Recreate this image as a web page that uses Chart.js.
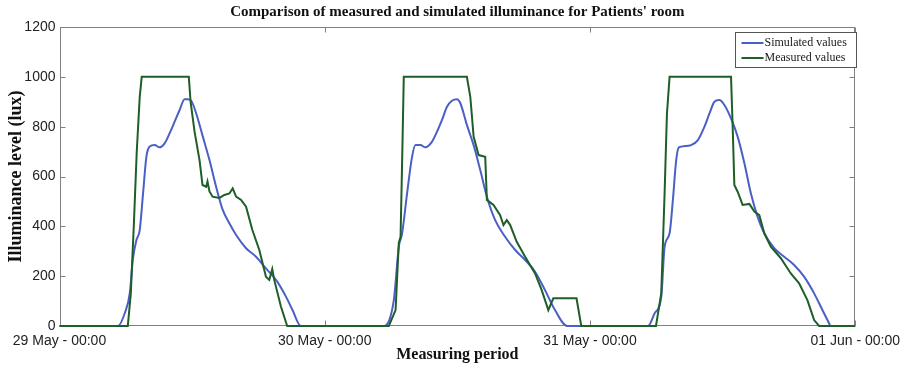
<!DOCTYPE html>
<html>
<head>
<meta charset="utf-8">
<script src="https://cdn.jsdelivr.net/npm/chart.js@4/dist/chart.umd.min.js"></script>
<style>
  html, body { margin: 0; padding: 0; background: #ffffff; }
  #wrap { width: 907px; height: 366px; }
</style>
</head>
<body>
<div id="wrap"><canvas id="chart" width="907" height="366"></canvas></div>
<script>
// Hours since 29 May 00:00 and illuminance (lux)
const simHours = [0, 5.30, 5.91, 6.36, 6.63, 6.96, 7.26, 7.56, 7.86, 8.16, 8.61, 9.06, 9.51, 9.96, 10.42, 10.87, 11.32, 11.61, 11.92, 12.37, 12.97, 13.57, 14.17, 14.77, 15.37, 15.98, 16.88, 17.78, 18.68, 19.59, 20.49, 21.08, 21.84,
  29.35, 30.25, 30.70, 31.00, 31.45, 31.90, 32.21, 32.66, 33.11, 33.71, 34.16, 34.61, 35.06, 35.51, 35.96, 36.27, 36.86, 37.47, 38.07, 38.67, 39.42, 40.32, 41.23, 42.13, 43.03, 43.93, 44.83, 45.94,
  53.25, 53.85, 54.45, 54.75, 55.20, 55.50, 55.80, 56.04, 56.56, 57.15, 57.76, 58.36, 58.81, 59.26, 59.71, 60.16, 60.76, 61.36, 61.97, 62.56, 63.16, 63.77, 64.67, 65.57, 66.47, 67.37, 68.28, 69.03, 69.63, 69.75, 72];
const simLux = [0, 0, 52, 132, 265, 345, 385, 532, 679, 720, 726, 717, 733, 773, 820, 867, 910, 910, 904, 853, 760, 666, 559, 466, 412, 365, 312, 278, 231, 185, 118, 64, 0,
  0, 104, 318, 372, 532, 679, 726, 726, 717, 740, 780, 827, 880, 904, 910, 894, 807, 726, 626, 519, 425, 358, 305, 265, 218, 144, 64, 0,
  0, 51, 118, 318, 372, 506, 666, 717, 722, 726, 746, 800, 853, 900, 907, 887, 833, 760, 653, 532, 439, 372, 312, 278, 245, 198, 131, 64, 11, 0, 0];

const measHours = [0, 6.18, 6.45, 6.72, 6.99, 7.26, 7.44, 11.70, 11.86, 12.22, 12.67, 12.94, 13.27, 13.39, 13.57, 13.85, 14.47, 14.92, 15.37, 15.67, 15.98, 16.43, 16.88, 17.45, 18.08, 18.68, 18.98, 19.25, 19.43, 20.04, 20.60,
  29.80, 30.41, 30.70, 30.86, 31.02, 31.15, 36.86, 37.17, 37.47, 37.92, 38.52, 38.67, 39.27, 39.87, 40.17, 40.47, 40.78, 41.37, 42.13, 43.03, 43.63, 44.23, 44.68, 46.78, 47.21,
  53.97, 54.45, 54.75, 54.96, 55.20, 60.76, 60.91, 61.06, 61.36, 61.81, 62.42, 62.87, 63.32, 63.77, 64.36, 65.27, 66.17, 66.92, 67.67, 68.28, 68.73, 72];
const measLux = [0, 0, 130, 400, 700, 920, 1000, 1000, 900, 780, 666, 566, 559, 580, 540, 519, 514, 526, 532, 552, 519, 506, 479, 385, 305, 198, 185, 229, 185, 77, 0,
  0, 64, 333, 358, 700, 1000, 1000, 920, 760, 686, 679, 506, 486, 445, 405, 425, 405, 338, 278, 211, 144, 64, 111, 111, 0,
  0, 132, 533, 850, 1000, 1000, 800, 566, 539, 486, 490, 459, 445, 372, 318, 272, 211, 171, 104, 24, 0, 0];

const xTickHours = [0, 24, 48, 72];
const xTickLabels = ['29 May - 00:00', '30 May - 00:00', '31 May - 00:00', '01 Jun - 00:00'];
const seriesNames = ['Simulated values', 'Measured values'];

const SIM_COLOR = 'rgb(74, 96, 196)';
const MEAS_COLOR = 'rgb(30, 94, 40)';
const FRAME_COLOR = '#808080';

function toPoints(xs, ys) { return xs.map((x, i) => ({ x: x, y: ys[i] })); }

// Box around the plot with inward tick marks on all four sides
const framePlugin = {
  id: 'frame',
  beforeDatasetsDraw(chart) {
    const { ctx, chartArea: a, scales } = chart;
    const L = Math.round(a.left) + 0.5, R = Math.round(a.right) - 0.5;
    const T = Math.round(a.top) + 0.5, B = Math.round(a.bottom) - 0.5;
    ctx.save();
    ctx.strokeStyle = FRAME_COLOR;
    ctx.lineWidth = 1;
    ctx.strokeRect(L, T, R - L, B - T);
    const len = 5;
    ctx.beginPath();
    scales.y.ticks.forEach(t => {
      const y = Math.round(scales.y.getPixelForValue(t.value)) + 0.5;
      ctx.moveTo(L, y); ctx.lineTo(L + len, y);
      ctx.moveTo(R, y); ctx.lineTo(R - len, y);
    });
    scales.x.ticks.forEach(t => {
      const x = Math.round(scales.x.getPixelForValue(t.value)) + 0.5;
      ctx.moveTo(x, T); ctx.lineTo(x, T + len);
      ctx.moveTo(x, B); ctx.lineTo(x, B - len);
    });
    ctx.stroke();
    ctx.restore();
  }
};

// Boxed legend in the top-right corner of the plot
const boxLegendPlugin = {
  id: 'boxLegend',
  afterDatasetsDraw(chart) {
    const { ctx, chartArea: a } = chart;
    const w = 121, h = 35;
    const right = Math.round(a.right) + 1.5;
    const left = right - w, top = Math.round(a.top) + 5.5;
    ctx.save();
    ctx.fillStyle = '#ffffff';
    ctx.fillRect(left, top, w, h);
    ctx.strokeStyle = '#555555';
    ctx.lineWidth = 1;
    ctx.strokeRect(left, top, w, h);
    ctx.font = '12px "Liberation Serif", "Times New Roman", serif';
    ctx.textBaseline = 'middle';
    ctx.fillStyle = '#1a1a1a';
    chart.data.datasets.forEach((ds, i) => {
      const y = top + 10.5 + i * 15;
      ctx.strokeStyle = ds.borderColor;
      ctx.lineWidth = 2;
      ctx.beginPath();
      ctx.moveTo(left + 6, y);
      ctx.lineTo(left + 28, y);
      ctx.stroke();
      ctx.fillText(ds.label, left + 29, y);
    });
    ctx.restore();
  }
};

new Chart(document.getElementById('chart'), {
  type: 'line',
  data: {
    datasets: [
      {
        label: seriesNames[0],
        data: toPoints(simHours, simLux),
        borderColor: SIM_COLOR,
        borderWidth: 2,
        pointRadius: 0,
        cubicInterpolationMode: 'monotone',
        clip: false,
        order: 1,
        fill: false
      },
      {
        label: seriesNames[1],
        data: toPoints(measHours, measLux),
        borderColor: MEAS_COLOR,
        borderWidth: 2,
        pointRadius: 0,
        tension: 0,
        clip: false,
        order: 0,
        fill: false
      }
    ]
  },
  options: {
    responsive: false,
    animation: false,
    events: [],
    layout: { padding: { left: 0, right: 48, top: 0, bottom: 0 } },
    plugins: {
      legend: { display: false },
      tooltip: { enabled: false },
      title: {
        display: true,
        fullSize: false,
        text: "Comparison of measured and simulated illuminance for Patients' room",
        color: '#111111',
        font: { family: '"Liberation Serif", "Times New Roman", serif', size: 15, weight: 'bold' },
        padding: { top: 3, bottom: 6 }
      }
    },
    scales: {
      x: {
        type: 'linear',
        min: 0,
        max: 72,
        afterBuildTicks(scale) { scale.ticks = xTickHours.map(v => ({ value: v })); },
        afterFit(scale) { scale.height = 40; },
        grid: { display: false, drawTicks: false },
        border: { display: false },
        ticks: {
          padding: 7,
          maxRotation: 0,
          autoSkip: false,
          color: '#222222',
          font: { family: '"Liberation Sans", Arial, sans-serif', size: 14 },
          callback(value) {
            const i = xTickHours.indexOf(value);
            return i >= 0 ? xTickLabels[i] : '';
          }
        },
        title: {
          display: true,
          text: 'Measuring period',
          color: '#111111',
          font: { family: '"Liberation Serif", "Times New Roman", serif', size: 16, weight: 'bold' },
          padding: { top: 0, bottom: 2 }
        }
      },
      y: {
        min: 0,
        max: 1200,
        afterFit(scale) { scale.width = 59.5; },
        grid: { display: false, drawTicks: false },
        border: { display: false },
        ticks: {
          stepSize: 200,
          padding: 4,
          color: '#222222',
          font: { family: '"Liberation Sans", Arial, sans-serif', size: 14 },
          callback(value) { return String(value); }
        },
        title: {
          display: true,
          text: 'Illuminance level (lux)',
          color: '#111111',
          font: { family: '"Liberation Serif", "Times New Roman", serif', size: 18, weight: 'bold' },
          padding: { top: 6, bottom: 0 }
        }
      }
    }
  },
  plugins: [framePlugin, boxLegendPlugin]
});
</script>
</body>
</html>
